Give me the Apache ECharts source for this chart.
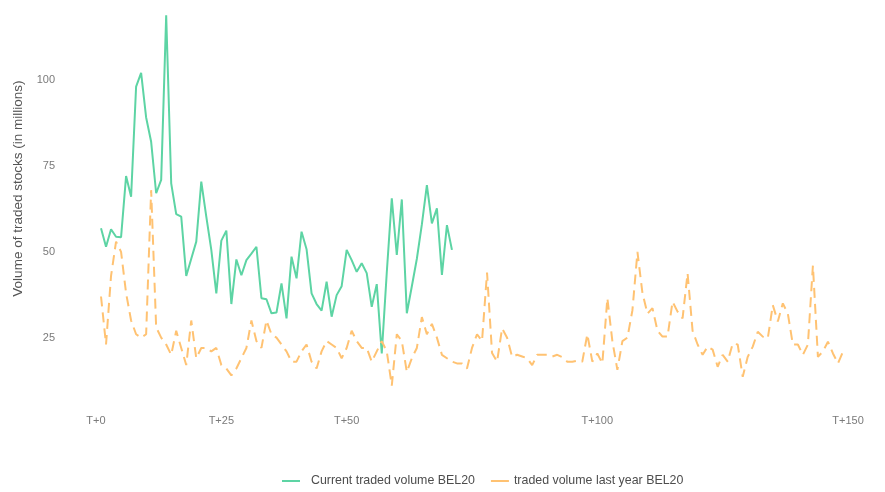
<!DOCTYPE html>
<html>
<head>
<meta charset="utf-8">
<script src="https://cdn.jsdelivr.net/npm/echarts@6/dist/echarts.min.js"></script>
<style>
  html, body { margin: 0; padding: 0; background: #fff; }
  #chart-container { width: 885px; height: 492px; }
</style>
</head>
<body>
<div id="chart-container"></div>
<script>
// x categories T+0 .. T+150, only some of them get a label
const dayCount = 151
const days = Array.from({ length: dayCount }, (_, i) => "T+" + i)
const labelledDays = [0, 25, 50, 100, 150]

const yTicks = [25, 50, 75, 100]

// values start at T+1
const currentVolume = [
  56.9, 51.5, 56.6, 54.4, 54.3, 72.1, 66.1, 98.2, 102.2, 89.2,
  82.1, 67.1, 71, 119, 70, 61, 60.3, 43, 48, 53,
  70.5, 60.3, 50.6, 37.9, 53.3, 56.2, 34.8, 47.8, 43.2, 47.6,
  49.5, 51.5, 36.5, 36.2, 32.1, 32.3, 40.8, 30.6, 48.6, 42.3,
  55.9, 50.8, 37.9, 34.8, 32.9, 41.3, 31.1, 37.4, 40, 50.6,
  47.6, 44.2, 46.7, 43.8, 34, 40.6, 20.4, 44, 65.6, 49.1,
  65.3, 32.1, 40, 48, 58, 69.5, 58.3, 62.7, 43.3, 57.8,
  50.6
]

const lastYearVolume = [
  37, 23, 43, 53, 50, 38, 30, 26, 25, 26,
  68, 28, 25, 23, 20, 27, 22, 17, 30, 19,
  22, 22, 21, 22, 17, 16, 14, 16, 19, 22,
  30, 24, 22, 30, 26, 25, 23, 21, 18, 18,
  21, 23, 18, 16, 21, 24, 23, 22, 19, 22,
  27, 24, 22, 22, 18, 21, 24, 21, 11, 26,
  24, 15, 19, 22, 31, 26, 29, 25, 20, 19,
  18, 17.5, 17.5, 16, 22, 26, 24, 44, 20.5, 18,
  27.7, 25, 19.4, 20, 19.5, 19, 17, 20, 20, 20,
  19.5, 20, 19.3, 18, 18, 18.3, 18, 26, 18, 20.4,
  17.5, 36.5, 24, 15.6, 24, 25, 33, 50, 38, 32,
  33.6, 27, 25.3, 25.3, 35.5, 32.6, 30.6, 43.8, 27, 23,
  20, 22.4, 21.5, 16.5, 20, 18, 23.3, 23, 13.6, 19.4,
  22.4, 26.7, 25.3, 24.8, 34.5, 29.7, 35, 32, 23, 23,
  20, 23, 46, 19.4, 21, 23.8, 20.4, 17.5, 20.9
]

const seriesNames = ["Current traded volume BEL20", "traded volume last year BEL20"]
const seriesColors = ["#5dd4a4", "#ffc272"]

var dom = document.getElementById("chart-container")
var myChart = echarts.init(dom, null, { renderer: "canvas" })

const fromT1 = (values) => [null, ...values]

const labelColor = "#7a7a7a"
const fontFamily = "'Liberation Sans', Arial, sans-serif"

var option = {
  animation: false,
  backgroundColor: "#ffffff",
  textStyle: { fontFamily },
  grid: {
    left: 96,
    right: 37,
    top: 11.8,
    bottom: 68.6,
    containLabel: false
  },
  legend: {
    left: 277,
    top: 470,
    icon: "rect",
    itemWidth: 18,
    itemHeight: 2,
    itemGap: 16,
    data: [
      {
        name: seriesNames[0],
        textStyle: { color: "#4d4d4d", fontSize: 12.4, padding: [0, 0, 0, 6] }
      },
      {
        name: seriesNames[1],
        textStyle: { color: "#4d4d4d", fontSize: 12.4, padding: [0, 0, 0, 0] }
      }
    ]
  },
  xAxis: {
    type: "category",
    data: days,
    boundaryGap: false,
    axisLine: { show: false },
    axisTick: { show: false },
    splitLine: { show: false },
    axisLabel: {
      color: labelColor,
      fontSize: 11,
      margin: -8,
      interval: (idx) => labelledDays.includes(idx)
    }
  },
  yAxis: {
    type: "value",
    min: 0,
    max: 120,
    interval: 25,
    name: "Volume of traded stocks (in millions)",
    nameLocation: "middle",
    nameGap: 63,
    nameRotate: 90,
    nameTextStyle: {
      color: "#555555",
      fontSize: 13.5,
      padding: [0, 0, 0, 58]
    },
    axisLine: { show: false },
    axisTick: { show: false },
    splitLine: { show: false },
    axisLabel: {
      color: labelColor,
      fontSize: 11,
      margin: 41,
      showMinLabel: false,
      showMaxLabel: false,
      formatter: (v) => (yTicks.includes(v) ? String(v) : "")
    }
  },
  series: [
    {
      name: seriesNames[0],
      type: "line",
      data: fromT1(currentVolume),
      showSymbol: false,
      color: seriesColors[0],
      lineStyle: { width: 2, color: seriesColors[0] }
    },
    {
      name: seriesNames[1],
      type: "line",
      data: fromT1(lastYearVolume),
      showSymbol: false,
      color: seriesColors[1],
      lineStyle: { width: 2, color: seriesColors[1], type: [10, 6] }
    }
  ]
}

myChart.setOption(option)
</script>
</body>
</html>
